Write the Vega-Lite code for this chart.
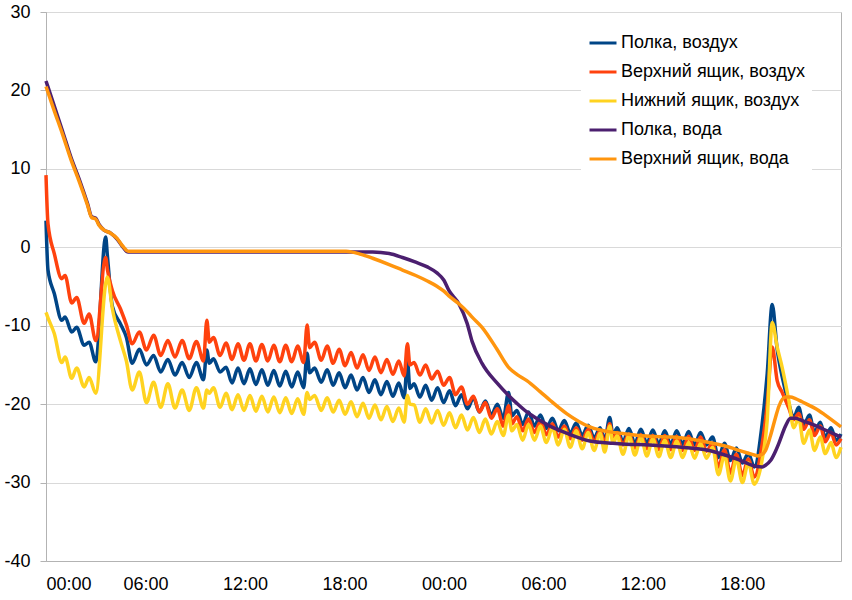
{
  "$schema": "https://vega.github.io/schema/vega-lite/v6.json",
  "width": 795,
  "height": 549,
  "autosize": {"type": "none"},
  "padding": {"left": 46, "top": 12, "right": 11, "bottom": 39},
  "datasets": {
    "air": [
      {"t": 0, "a": 3.4, "b": 9.2, "c": -8.3},
      {"t": 0.12, "a": -2.9, "b": 3.0, "c": -9.0},
      {"t": 0.5, "a": -5.9, "b": -0.8, "c": -11.0},
      {"t": 0.95, "a": -9.3, "b": -4.0, "c": -14.7},
      {"t": 1.15, "a": -8.9, "b": -3.6, "c": -14.0},
      {"t": 1.55, "a": -10.8, "b": -7.1, "c": -16.7},
      {"t": 1.85, "a": -10.2, "b": -6.4, "c": -15.4},
      {"t": 2.3, "a": -12.5, "b": -9.7, "c": -17.8},
      {"t": 2.6, "a": -12.1, "b": -8.5, "c": -16.6},
      {"t": 3.0, "a": -14.6, "b": -11.9, "c": -18.6},
      {"t": 3.6, "a": 1.3, "b": -1.3, "c": -4.6},
      {"t": 3.7, "a": -1.0, "b": -2.8, "c": -3.8},
      {"t": 4.0, "a": -7.5, "b": -5.5, "c": -7.8},
      {"t": 4.5, "a": -9.8, "b": -7.9, "c": -12.0},
      {"t": 4.85, "a": -11.5, "b": -9.9, "c": -14.5},
      {"t": 5.2, "a": -14.8, "b": -12.3, "c": -18.2},
      {"t": 5.63, "a": -13.0, "b": -10.8, "c": -15.9},
      {"t": 6.06, "a": -15.0, "b": -13.1, "c": -19.8},
      {"t": 6.49, "a": -13.8, "b": -11.2, "c": -17.2},
      {"t": 6.92, "a": -15.9, "b": -13.8, "c": -20.4},
      {"t": 7.35, "a": -14.3, "b": -11.9, "c": -17.4},
      {"t": 7.78, "a": -16.3, "b": -14.0, "c": -20.5},
      {"t": 8.21, "a": -14.7, "b": -11.9, "c": -18.2},
      {"t": 8.64, "a": -16.6, "b": -14.2, "c": -20.8},
      {"t": 9.07, "a": -14.7, "b": -12.0, "c": -17.9},
      {"t": 9.5, "a": -16.9, "b": -14.5, "c": -20.5},
      {"t": 9.7, "a": -13.1, "b": -9.3, "c": -18.2},
      {"t": 9.85, "a": -14.8, "b": -12.1, "c": -18.6},
      {"t": 10.1, "a": -14.2, "b": -11.5, "c": -17.9},
      {"t": 10.5, "a": -15.9, "b": -13.8, "c": -20.4},
      {"t": 10.86, "a": -15.3, "b": -12.2, "c": -18.6},
      {"t": 11.22, "a": -17.3, "b": -14.3, "c": -20.7},
      {"t": 11.58, "a": -15.4, "b": -12.3, "c": -18.8},
      {"t": 11.94, "a": -17.4, "b": -14.4, "c": -20.8},
      {"t": 12.3, "a": -15.5, "b": -12.3, "c": -18.9},
      {"t": 12.66, "a": -17.5, "b": -14.5, "c": -20.9},
      {"t": 13.02, "a": -15.6, "b": -12.4, "c": -19.0},
      {"t": 13.38, "a": -17.6, "b": -14.5, "c": -21.0},
      {"t": 13.74, "a": -15.7, "b": -12.5, "c": -19.1},
      {"t": 14.1, "a": -17.7, "b": -14.6, "c": -21.1},
      {"t": 14.46, "a": -15.8, "b": -12.5, "c": -19.2},
      {"t": 14.82, "a": -17.8, "b": -14.6, "c": -21.2},
      {"t": 15.18, "a": -15.9, "b": -12.6, "c": -19.3},
      {"t": 15.54, "a": -17.9, "b": -14.7, "c": -21.3},
      {"t": 15.75, "a": -13.5, "b": -9.9, "c": -18.5},
      {"t": 15.9, "a": -16.0, "b": -12.8, "c": -19.4},
      {"t": 16.2, "a": -15.4, "b": -12.1, "c": -18.9},
      {"t": 16.6, "a": -17.2, "b": -14.4, "c": -20.8},
      {"t": 16.96, "a": -15.6, "b": -12.6, "c": -19.2},
      {"t": 17.32, "a": -17.6, "b": -14.8, "c": -21.0},
      {"t": 17.68, "a": -16.0, "b": -13.0, "c": -19.5},
      {"t": 18.04, "a": -17.9, "b": -15.1, "c": -21.3},
      {"t": 18.4, "a": -16.3, "b": -13.4, "c": -19.7},
      {"t": 18.76, "a": -18.2, "b": -15.4, "c": -21.6},
      {"t": 19.12, "a": -16.6, "b": -13.7, "c": -19.9},
      {"t": 19.48, "a": -18.5, "b": -15.7, "c": -21.8},
      {"t": 19.84, "a": -16.9, "b": -14.0, "c": -20.1},
      {"t": 20.2, "a": -18.8, "b": -16.0, "c": -22.0},
      {"t": 20.56, "a": -17.1, "b": -14.3, "c": -20.3},
      {"t": 20.92, "a": -19.0, "b": -16.2, "c": -22.2},
      {"t": 21.28, "a": -17.3, "b": -14.5, "c": -20.5},
      {"t": 21.6, "a": -19.2, "b": -16.4, "c": -22.3},
      {"t": 21.8, "a": -14.4, "b": -12.3, "c": -18.9},
      {"t": 21.95, "a": -18.0, "b": -15.0, "c": -20.0},
      {"t": 22.2, "a": -17.4, "b": -14.7, "c": -20.1},
      {"t": 22.55, "a": -19.1, "b": -16.3, "c": -22.3},
      {"t": 22.9, "a": -17.6, "b": -15.0, "c": -20.6},
      {"t": 23.26, "a": -19.5, "b": -16.8, "c": -22.4},
      {"t": 23.62, "a": -17.9, "b": -15.8, "c": -20.8},
      {"t": 23.98, "a": -19.8, "b": -17.6, "c": -22.7},
      {"t": 24.34, "a": -18.3, "b": -16.6, "c": -21.1},
      {"t": 24.7, "a": -20.2, "b": -18.8, "c": -23.0},
      {"t": 25.06, "a": -18.8, "b": -17.8, "c": -21.4},
      {"t": 25.42, "a": -20.6, "b": -20.0, "c": -23.3},
      {"t": 25.78, "a": -19.2, "b": -19.0, "c": -21.7},
      {"t": 26.14, "a": -21.0, "b": -21.0, "c": -23.6},
      {"t": 26.5, "a": -19.6, "b": -19.8, "c": -21.9},
      {"t": 26.86, "a": -21.4, "b": -21.8, "c": -23.8},
      {"t": 27.22, "a": -20.0, "b": -20.6, "c": -22.2},
      {"t": 27.58, "a": -21.8, "b": -22.8, "c": -24.0},
      {"t": 27.9, "a": -18.5, "b": -20.2, "c": -21.4},
      {"t": 28.1, "a": -21.5, "b": -22.5, "c": -23.4},
      {"t": 28.4, "a": -20.8, "b": -21.6, "c": -22.6},
      {"t": 28.75, "a": -22.6, "b": -23.4, "c": -24.6},
      {"t": 29.1, "a": -21.0, "b": -21.9, "c": -22.6},
      {"t": 29.46, "a": -22.8, "b": -23.6, "c": -24.6},
      {"t": 29.82, "a": -21.4, "b": -22.2, "c": -22.8},
      {"t": 30.18, "a": -23.1, "b": -23.9, "c": -24.9},
      {"t": 30.54, "a": -21.8, "b": -22.5, "c": -23.0},
      {"t": 30.9, "a": -23.4, "b": -24.2, "c": -25.2},
      {"t": 31.26, "a": -22.1, "b": -22.8, "c": -23.2},
      {"t": 31.62, "a": -23.7, "b": -24.4, "c": -25.5},
      {"t": 31.98, "a": -22.4, "b": -23.0, "c": -23.4},
      {"t": 32.34, "a": -24.0, "b": -24.6, "c": -25.7},
      {"t": 32.7, "a": -22.7, "b": -23.2, "c": -23.6},
      {"t": 33.06, "a": -24.3, "b": -24.8, "c": -25.9},
      {"t": 33.42, "a": -23.0, "b": -23.4, "c": -23.7},
      {"t": 33.7, "a": -24.6, "b": -25.0, "c": -26.1},
      {"t": 34.0, "a": -21.7, "b": -22.5, "c": -22.8},
      {"t": 34.2, "a": -24.0, "b": -24.5, "c": -25.0},
      {"t": 34.45, "a": -23.0, "b": -23.6, "c": -24.0},
      {"t": 34.8, "a": -24.8, "b": -25.2, "c": -26.4},
      {"t": 35.16, "a": -23.1, "b": -23.8, "c": -24.0},
      {"t": 35.52, "a": -25.0, "b": -25.6, "c": -26.5},
      {"t": 35.88, "a": -23.2, "b": -23.9, "c": -24.2},
      {"t": 36.24, "a": -25.0, "b": -25.7, "c": -26.6},
      {"t": 36.6, "a": -23.3, "b": -24.0, "c": -24.4},
      {"t": 36.96, "a": -25.1, "b": -25.8, "c": -26.7},
      {"t": 37.32, "a": -23.4, "b": -24.0, "c": -24.6},
      {"t": 37.68, "a": -25.1, "b": -25.8, "c": -26.8},
      {"t": 38.04, "a": -23.4, "b": -24.1, "c": -24.7},
      {"t": 38.4, "a": -25.1, "b": -25.9, "c": -26.8},
      {"t": 38.76, "a": -23.5, "b": -24.1, "c": -24.9},
      {"t": 39.12, "a": -25.2, "b": -25.9, "c": -26.9},
      {"t": 39.48, "a": -23.6, "b": -24.2, "c": -25.0},
      {"t": 39.84, "a": -25.2, "b": -26.0, "c": -26.9},
      {"t": 40.2, "a": -24.2, "b": -25.0, "c": -25.5},
      {"t": 40.56, "a": -26.8, "b": -28.0, "c": -29.0},
      {"t": 40.92, "a": -25.0, "b": -25.8, "c": -26.5},
      {"t": 41.28, "a": -27.2, "b": -28.8, "c": -29.8},
      {"t": 41.64, "a": -25.6, "b": -26.4, "c": -27.0},
      {"t": 42.0, "a": -27.5, "b": -29.1, "c": -30.0},
      {"t": 42.36, "a": -26.3, "b": -27.0, "c": -27.5},
      {"t": 42.72, "a": -28.0, "b": -29.3, "c": -30.2},
      {"t": 43.2, "a": -22.4, "b": -25.0, "c": -27.0},
      {"t": 43.5, "a": -16.1, "b": -20.0, "c": -22.0},
      {"t": 43.8, "a": -7.3, "b": -12.7, "c": -9.6},
      {"t": 44.1, "a": -13.0, "b": -17.0, "c": -12.7},
      {"t": 44.4, "a": -16.5, "b": -18.5, "c": -15.3},
      {"t": 44.8, "a": -19.9, "b": -20.5, "c": -19.5},
      {"t": 45.1, "a": -21.7, "b": -22.0, "c": -23.0},
      {"t": 45.4, "a": -20.4, "b": -21.2, "c": -21.8},
      {"t": 45.7, "a": -22.7, "b": -23.2, "c": -25.0},
      {"t": 46.05, "a": -21.4, "b": -22.0, "c": -23.3},
      {"t": 46.35, "a": -23.6, "b": -24.0, "c": -25.9},
      {"t": 46.7, "a": -22.3, "b": -22.8, "c": -24.2},
      {"t": 47.0, "a": -24.2, "b": -24.8, "c": -26.3},
      {"t": 47.35, "a": -23.0, "b": -23.6, "c": -24.9},
      {"t": 47.65, "a": -24.6, "b": -25.2, "c": -26.8},
      {"t": 47.95, "a": -23.8, "b": -24.4, "c": -25.5}
    ],
    "water": [
      {"t": 0, "d": 21.2, "e": 20.5},
      {"t": 0.5, "d": 18.0, "e": 17.4},
      {"t": 1.0, "d": 14.8, "e": 14.4},
      {"t": 1.5, "d": 11.5, "e": 11.2},
      {"t": 2.0, "d": 8.7, "e": 8.4},
      {"t": 2.5, "d": 5.6, "e": 5.4},
      {"t": 2.75, "d": 3.9, "e": 3.8},
      {"t": 3.0, "d": 3.7, "e": 3.6},
      {"t": 3.2, "d": 2.9, "e": 2.8},
      {"t": 3.5, "d": 2.2, "e": 2.2},
      {"t": 3.9, "d": 1.8, "e": 1.8},
      {"t": 4.3, "d": 1.0, "e": 1.1},
      {"t": 4.65, "d": 0.0, "e": 0.1},
      {"t": 4.95, "d": -0.6, "e": -0.5},
      {"t": 18.1, "d": -0.6, "e": -0.5},
      {"t": 19.0, "d": -0.6, "e": -0.9},
      {"t": 19.7, "d": -0.6, "e": -1.4},
      {"t": 20.7, "d": -0.8, "e": -2.2},
      {"t": 21.5, "d": -1.3, "e": -2.9},
      {"t": 22.3, "d": -1.9, "e": -3.6},
      {"t": 23.0, "d": -2.5, "e": -4.3},
      {"t": 23.6, "d": -3.3, "e": -5.0},
      {"t": 24.0, "d": -4.2, "e": -5.6},
      {"t": 24.3, "d": -5.5, "e": -6.2},
      {"t": 24.9, "d": -7.2, "e": -7.2},
      {"t": 25.4, "d": -9.7, "e": -8.2},
      {"t": 25.7, "d": -12.0, "e": -8.9},
      {"t": 26.3, "d": -14.8, "e": -10.2},
      {"t": 27.2, "d": -17.3, "e": -13.0},
      {"t": 27.9, "d": -18.9, "e": -15.3},
      {"t": 28.4, "d": -19.9, "e": -16.2},
      {"t": 29.0, "d": -21.0, "e": -17.0},
      {"t": 29.8, "d": -22.1, "e": -18.4},
      {"t": 30.4, "d": -22.8, "e": -19.5},
      {"t": 31.4, "d": -23.7, "e": -21.2},
      {"t": 32.8, "d": -24.7, "e": -22.9},
      {"t": 34.2, "d": -25.0, "e": -23.6},
      {"t": 35.0, "d": -25.1, "e": -23.8},
      {"t": 36.4, "d": -25.2, "e": -24.1},
      {"t": 37.8, "d": -25.4, "e": -24.2},
      {"t": 40.0, "d": -25.9, "e": -24.9},
      {"t": 41.4, "d": -26.8, "e": -25.6},
      {"t": 41.8, "d": -27.1, "e": -25.9},
      {"t": 42.6, "d": -27.8, "e": -26.4},
      {"t": 42.9, "d": -27.95, "e": -26.6},
      {"t": 43.2, "d": -28.0, "e": -26.4},
      {"t": 43.4, "d": -27.8, "e": -25.9},
      {"t": 43.7, "d": -27.2, "e": -24.0},
      {"t": 44.0, "d": -26.0, "e": -21.7},
      {"t": 44.2, "d": -25.0, "e": -20.3},
      {"t": 44.6, "d": -22.8, "e": -19.1},
      {"t": 44.9, "d": -21.8, "e": -19.1},
      {"t": 45.2, "d": -21.8, "e": -19.3},
      {"t": 45.6, "d": -22.1, "e": -19.7},
      {"t": 46.6, "d": -22.9, "e": -20.8},
      {"t": 47.0, "d": -23.3, "e": -21.4},
      {"t": 47.95, "d": -24.2, "e": -22.9}
    ]
  },
  "config": {
    "font": "Liberation Sans",
    "view": {"stroke": "#b3b3b3"},
    "axis": {
      "labelFont": "Liberation Sans",
      "labelFontSize": 18,
      "labelColor": "#000000",
      "domainColor": "#b3b3b3",
      "tickColor": "#b3b3b3",
      "gridColor": "#d9d9d9",
      "title": null
    },
    "legend": {
      "orient": "none",
      "legendX": 535,
      "legendY": 9,
      "fillColor": "#ffffff",
      "padding": 7,
      "title": null,
      "labelFont": "Liberation Sans",
      "labelFontSize": 18,
      "labelColor": "#000000",
      "labelLimit": 400,
      "symbolType": "stroke",
      "symbolSize": 729,
      "symbolStrokeWidth": 3,
      "labelOffset": 3,
      "rowPadding": 5
    }
  },
  "layer": [
    {
      "mark": {"type": "rule", "color": "#b3b3b3", "strokeWidth": 6},
      "encoding": {"y": {"datum": 0, "type": "quantitative"}}
    },
    {
      "data": {"name": "air"},
      "transform": [{"fold": ["a", "b", "c"], "as": ["s", "v"]}],
      "mark": {"type": "line", "strokeWidth": 3.5, "interpolate": "monotone"},
      "encoding": {
        "x": {
          "field": "t",
          "type": "quantitative",
          "scale": {"domain": [0, 47.95], "nice": false, "zero": false},
          "axis": {
            "values": [0, 6, 12, 18, 24, 30, 36, 42],
            "labelExpr": "(datum.value % 24 < 10 ? '0' : '') + (datum.value % 24) + ':00'",
            "grid": false,
            "ticks": false,
            "labelPadding": 14
          }
        },
        "y": {
          "field": "v",
          "type": "quantitative",
          "scale": {"domain": [-40, 30], "nice": false},
          "axis": {
            "values": [-40, -30, -20, -10, 0, 10, 20, 30],
            "labelExpr": "'' + datum.value",
            "grid": true,
            "tickSize": 6,
            "labelPadding": 10
          }
        },
        "color": {
          "field": "s",
          "type": "nominal",
          "scale": {
            "domain": ["a", "b", "c", "d", "e"],
            "range": ["#004586", "#ff420e", "#ffd320", "#4b1f6f", "#ff950e"]
          },
          "legend": {
            "labelExpr": "datum.label == 'a' ? 'Полка, воздух' : datum.label == 'b' ? 'Верхний ящик, воздух' : datum.label == 'c' ? 'Нижний ящик, воздух' : datum.label == 'd' ? 'Полка, вода' : 'Верхний ящик, вода'"
          }
        }
      }
    },
    {
      "data": {"name": "water"},
      "transform": [{"fold": ["d", "e"], "as": ["s", "v"]}],
      "mark": {"type": "line", "strokeWidth": 3.5, "interpolate": "monotone"},
      "encoding": {
        "x": {"field": "t", "type": "quantitative", "scale": {"domain": [0, 47.95], "nice": false, "zero": false}},
        "y": {"field": "v", "type": "quantitative", "scale": {"domain": [-40, 30], "nice": false}},
        "color": {
          "field": "s",
          "type": "nominal",
          "scale": {
            "domain": ["a", "b", "c", "d", "e"],
            "range": ["#004586", "#ff420e", "#ffd320", "#4b1f6f", "#ff950e"]
          }
        }
      }
    }
  ]
}
